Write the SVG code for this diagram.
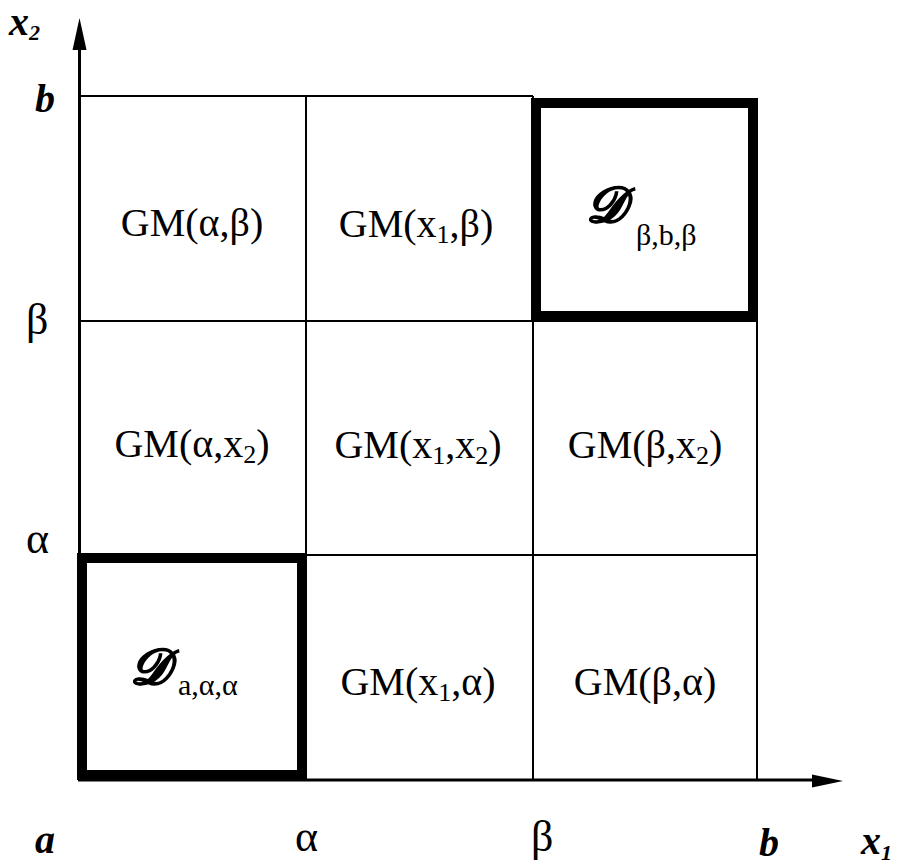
<svg xmlns="http://www.w3.org/2000/svg" width="898" height="864" viewBox="0 0 898 864">
<style>
.thin{stroke:#000;stroke-width:2;fill:none}
.axis{stroke:#000;stroke-width:3;fill:none}
.thick{stroke:#000;stroke-width:10;fill:none}
.lbl{font-family:"Liberation Serif",serif;font-size:40px;fill:#000;text-anchor:middle}
.sub{font-size:26px}
.ax{font-family:"Liberation Serif",serif;font-size:44px;fill:#000}
.axb{font-family:"Liberation Serif",serif;font-weight:bold;font-style:italic;font-size:40px;fill:#000}
.cal{font-family:"DejaVu Serif","Liberation Serif",serif;font-style:italic;font-weight:bold;font-size:50px;fill:#000;stroke:#000;stroke-width:1.2}
.dsub{font-family:"Liberation Serif",serif;font-size:30px;fill:#000}
</style>
<rect width="898" height="864" fill="#fff"/>
<g id="connectors">
<line class="axis" x1="79.5" y1="48" x2="79.5" y2="781"/>
<polygon points="79.5,18 72.5,50 86.5,50" fill="#000"/>
<line class="axis" x1="78" y1="780" x2="815" y2="780"/>
<polygon points="843,781 812,774.5 812,787.5" fill="#000"/>
<line class="thin" x1="79" y1="96" x2="533" y2="96"/>
<line class="thin" x1="79" y1="321" x2="758" y2="321"/>
<line class="thin" x1="79" y1="555" x2="758" y2="555"/>
<line class="thin" x1="306" y1="96" x2="306" y2="780"/>
<line class="thin" x1="533" y1="96" x2="533" y2="780"/>
<line class="thin" x1="757" y1="321" x2="757" y2="780"/>
</g>
<g id="axis-labels">
<text class="axb" x="9" y="35" font-size="34">x<tspan font-size="22" dy="5">2</tspan></text>
<text class="axb" x="35" y="112">b</text>
<text class="ax" x="26" y="334">β</text>
<text class="ax" x="26" y="553">α</text>
<text class="axb" x="35" y="853">a</text>
<text class="ax" x="295" y="851">α</text>
<text class="ax" x="531" y="851">β</text>
<text class="axb" x="759" y="856">b</text>
<text class="axb" x="861" y="854" font-size="34">x<tspan font-size="22" dy="6">1</tspan></text>
</g>
<g id="cell-a-b">
<text class="lbl" x="192" y="236">GM(α,β)</text>
</g>
<g id="cell-x1-b">
<text class="lbl" x="416" y="237">GM(x<tspan class="sub" dy="6">1</tspan><tspan dy="-6">,β)</tspan></text>
</g>
<g id="cell-D-bbb">
<rect class="thick" x="536" y="103" width="217" height="213"/>
<text class="cal" x="586" y="222">𝒟</text>
<text class="dsub" x="636" y="245">β,b,β</text>
</g>
<g id="cell-a-x2">
<text class="lbl" x="192" y="457">GM(α,x<tspan class="sub" dy="6">2</tspan><tspan dy="-6">)</tspan></text>
</g>
<g id="cell-x1-x2">
<text class="lbl" x="418" y="458">GM(x<tspan class="sub" dy="6">1</tspan><tspan dy="-6">,x</tspan><tspan class="sub" dy="6">2</tspan><tspan dy="-6">)</tspan></text>
</g>
<g id="cell-b-x2">
<text class="lbl" x="645" y="458">GM(β,x<tspan class="sub" dy="6">2</tspan><tspan dy="-6">)</tspan></text>
</g>
<g id="cell-D-aaa">
<rect class="thick" x="82" y="558" width="220" height="217"/>
<text class="cal" x="130" y="684">𝒟</text>
<text class="dsub" x="178" y="695">a,α,α</text>
</g>
<g id="cell-x1-a">
<text class="lbl" x="418" y="695">GM(x<tspan class="sub" dy="6">1</tspan><tspan dy="-6">,α)</tspan></text>
</g>
<g id="cell-b-a">
<text class="lbl" x="645" y="695">GM(β,α)</text>
</g>
</svg>
